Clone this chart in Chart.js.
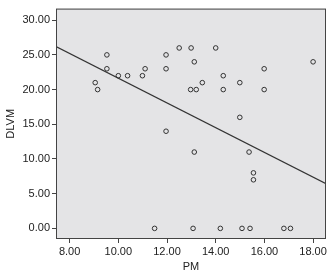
<!DOCTYPE html>
<html lang="en">
<head>
    <meta charset="UTF-8">
    <title>DLVM vs PM</title>
    <script src="https://cdn.jsdelivr.net/npm/chart.js"></script>
    <style>
        html, body { margin: 0; padding: 0; background: #fff; }
        #wrap { width: 331px; height: 275px; }
    </style>
</head>
<body>
    <div id="wrap"><canvas id="scatterChart" width="331" height="275"></canvas></div>
    <script>
        // values
        const pmValues = [9.05, 9.15, 9.53, 9.53, 10.0, 10.38, 10.99, 11.1, 11.96, 11.96, 11.96,
            12.5, 12.99, 13.12, 14.0, 18.0, 15.99, 14.31, 13.45, 14.99, 12.97, 13.2, 14.31, 15.99,
            14.99, 13.12, 15.37, 15.55, 15.55, 11.49, 13.07, 14.19, 15.08, 15.41, 16.8, 17.07];
        const dlvmValues = [21, 20, 25, 23, 22, 22, 22, 23, 25, 23, 14,
            26, 26, 24, 26, 24, 23, 22, 21, 21, 20, 20, 20, 20,
            16, 11, 11, 8, 7, 0, 0, 0, 0, 0, 0, 0];
        // fit line end points
        const fitX = [7.44, 18.53];
        const fitY = [26.2, 6.43];
        const xTicks = [8, 10, 12, 14, 16, 18];
        const yTicks = [0, 5, 10, 15, 20, 25, 30];

        const points = pmValues.map((v, i) => ({ x: v, y: dlvmValues[i] }));
        const fitLine = fitX.map((v, i) => ({ x: v, y: fitY[i] }));

        const frame = {
            id: 'frame',
            beforeDraw(chart) {
                const { ctx, chartArea: a } = chart;
                ctx.save();
                ctx.fillStyle = '#e4e4e6';
                ctx.fillRect(a.left, a.top, a.right - a.left, a.bottom - a.top);
                ctx.restore();
            },
            afterDraw(chart) {
                const { ctx, chartArea: a } = chart;
                ctx.save();
                ctx.strokeStyle = '#444';
                ctx.lineWidth = 1;
                ctx.strokeRect(a.left + 0.5, a.top + 0.5, a.right - a.left - 1, a.bottom - a.top - 1);
                ctx.restore();
            }
        };

        Chart.defaults.font.family = '"Liberation Sans", Arial, sans-serif';
        Chart.defaults.font.size = 11;
        Chart.defaults.color = '#222';

        new Chart(document.getElementById('scatterChart'), {
            type: 'scatter',
            data: {
                datasets: [{
                    data: points,
                    pointRadius: 2.3,
                    pointBorderWidth: 1,
                    borderColor: '#333',
                    backgroundColor: 'rgba(0,0,0,0)'
                }, {
                    type: 'line',
                    data: fitLine,
                    borderColor: '#333',
                    borderWidth: 1.2,
                    pointRadius: 0,
                    fill: false
                }]
            },
            options: {
                responsive: false,
                animation: false,
                layout: { padding: { top: 0, right: 1, left: 0, bottom: 0 } },
                plugins: { legend: { display: false }, tooltip: { enabled: false } },
                scales: {
                    x: {
                        type: 'linear',
                        min: 7.44,
                        max: 18.53,
                        afterBuildTicks: axis => { axis.ticks = xTicks.map(v => ({ value: v })); },
                        afterFit: axis => { axis.height = 36; },
                        ticks: { callback: v => v.toFixed(2), padding: 2, maxRotation: 0 },
                        grid: { drawOnChartArea: false, drawTicks: true, tickLength: 4, color: '#444' },
                        border: { display: false },
                        title: { display: true, text: 'PM', padding: { top: 0, bottom: 1 } }
                    },
                    y: {
                        type: 'linear',
                        min: -1.53,
                        max: 31.67,
                        afterBuildTicks: axis => { axis.ticks = yTicks.map(v => ({ value: v })); },
                        afterFit: axis => { axis.width = 56; },
                        ticks: { callback: v => v.toFixed(2), padding: 2 },
                        grid: { drawOnChartArea: false, drawTicks: true, tickLength: 4, color: '#444' },
                        border: { display: false },
                        title: { display: true, text: 'DLVM', padding: { top: 4, bottom: 0 } }
                    }
                }
            },
            plugins: [frame]
        });
    </script>
</body>
</html>
